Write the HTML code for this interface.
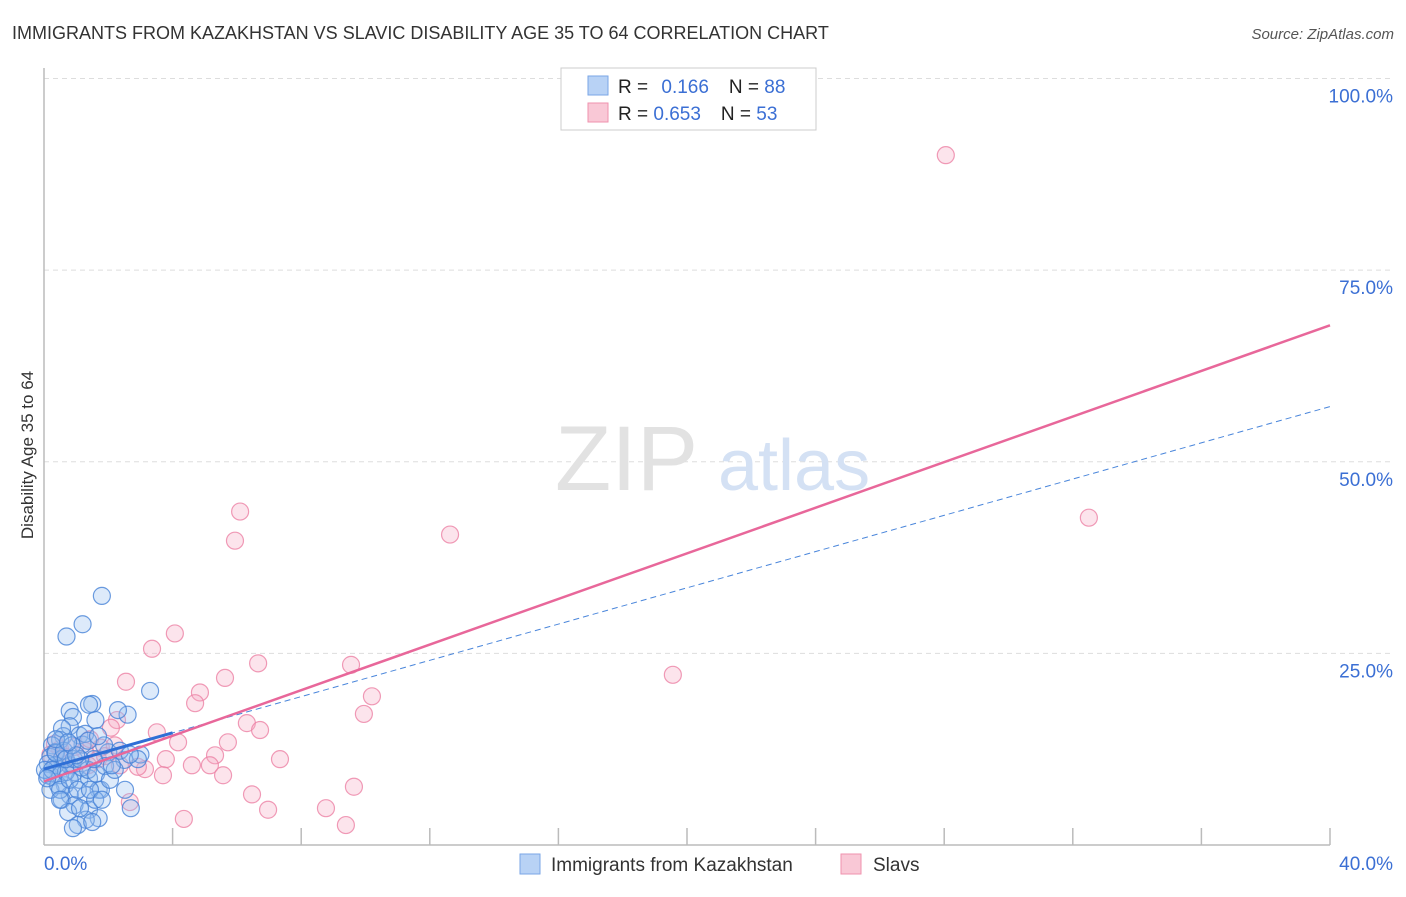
<!DOCTYPE html>
<html><head><meta charset="utf-8"><style>
body{margin:0;background:#fff;font-family:"Liberation Sans",sans-serif;}
svg text{font-family:"Liberation Sans",sans-serif;}
</style></head><body>
<svg id="chart" width="1406" height="892" xmlns="http://www.w3.org/2000/svg">
<text x="12" y="39" font-size="18" fill="#333">IMMIGRANTS FROM KAZAKHSTAN VS SLAVIC DISABILITY AGE 35 TO 64 CORRELATION CHART</text>
<text x="1394" y="39" font-size="15" fill="#555" font-style="italic" text-anchor="end">Source: ZipAtlas.com</text>
<text x="33" y="455" font-size="17" fill="#333" text-anchor="middle" transform="rotate(-90 33 455)">Disability Age 35 to 64</text>
<g id="grid"></g>
<g id="axes">
<line x1="44" y1="68" x2="44" y2="845" stroke="#bbb" stroke-width="1.5"/>
<line x1="44" y1="845" x2="1330" y2="845" stroke="#bbb" stroke-width="1.5"/>
</g>
<text x="555" y="490" font-size="92" fill="#e2e2e2" font-family="Liberation Serif,serif">ZIP</text>
<text x="718" y="490" font-size="72" fill="#d4e1f4">atlas</text>
<g id="ticks"></g>
<g id="pts"></g>
<g id="lines"></g>
<g>
<rect x="561" y="68" width="255" height="62" fill="#fff" stroke="#ccc"/>
<rect x="588" y="76" width="20" height="19" fill="#b8d2f5" stroke="#7aa6e6"/>
<rect x="588" y="103" width="20" height="19" fill="#f9c8d6" stroke="#ef92ae"/>
<text x="618" y="93" font-size="19" fill="#222">R = <tspan fill="#3b6fd4" dx="8">0.166</tspan><tspan dx="20" fill="#222">N = </tspan><tspan fill="#3b6fd4">88</tspan></text>
<text x="618" y="120" font-size="19" fill="#222">R = <tspan fill="#3b6fd4">0.653</tspan><tspan dx="20" fill="#222">N = </tspan><tspan fill="#3b6fd4">53</tspan></text>
</g>
<g>
<rect x="520" y="854" width="20" height="20" fill="#b8d2f5" stroke="#7aa6e6"/>
<text x="551" y="871" font-size="19" fill="#333">Immigrants from Kazakhstan</text>
<rect x="841" y="854" width="20" height="20" fill="#f9c8d6" stroke="#ef92ae"/>
<text x="873" y="871" font-size="19" fill="#333">Slavs</text>
</g>
</svg>
<script>
const blueX=[1.8,1.2,0.7,3.3,1.5,1.4,2.6,0.8,0.9,1.6,2.3,0.8,0.6,1.1,2.0,1.2,3.0,2.5,0.5,0.25,0.2,0.35,0.55,0.8,0.95,0.4,0.12,0.25,0.65,1.1,1.4,1.7,1.3,0.8,0.55,0.95,0.75,1.4,1.7,1.3,1.05,0.9,1.5,2.7,1.77,0.35,0.5,0.12,0.37,0.62,0.03,0.2,0.44,0.68,0.93,1.18,1.37,1.62,1.9,2.05,2.2,0.5,0.8,1.05,0.68,1.55,1.87,2.36,2.92,0.25,0.1,1.59,1.12,0.87,0.56,1.28,2.67,2.11,0.37,1.37,1.68,1.0,0.75,0.5,1.43,2.52,1.8,1.12];
const blueY=[32.5,28.8,27.2,20.1,18.4,18.3,17.0,17.5,16.7,16.3,17.6,15.5,14.2,14.3,12.1,13.1,11.8,11.1,13.7,13.0,11.5,12.1,11.2,10.4,9.5,10.0,9.1,8.9,7.8,8.5,8.7,7.2,6.5,6.5,5.9,5.2,4.3,4.6,3.5,3.3,2.6,2.2,3.0,4.8,7.2,10.4,9.1,10.6,12.0,12.3,9.8,7.2,7.8,9.5,11.2,10.1,9.8,9.3,10.3,8.5,9.8,7.2,8.5,7.2,11.2,11.2,13.0,12.3,11.2,9.8,8.7,5.9,11.2,13.0,15.2,14.5,11.8,10.4,13.8,13.6,14.2,11.7,13.4,5.9,7.2,7.2,5.9,4.8];
const pinkX=[28.05,32.5,12.63,6.1,5.94,4.07,3.36,6.66,9.55,19.56,2.55,4.85,5.63,10.2,4.7,9.95,2.27,6.31,6.72,3.51,2.08,5.72,4.17,5.32,7.34,3.79,4.6,5.16,3.14,5.57,3.7,2.92,1.77,1.68,1.27,0.96,0.5,0.34,0.65,1.37,2.36,6.47,9.64,2.67,6.97,8.77,4.35,9.39,1.9,1.43,0.8,0.2,2.2];
const pinkY=[90.0,42.7,40.5,43.5,39.7,27.6,25.6,23.7,23.5,22.2,21.3,19.9,21.8,19.4,18.5,17.1,16.3,15.9,15.0,14.7,15.3,13.4,13.4,11.7,11.2,11.2,10.4,10.4,9.9,9.1,9.1,10.2,12.7,11.2,12.3,12.8,12.5,13.2,11.5,10.4,10.4,6.6,7.6,5.6,4.6,4.8,3.4,2.6,11.6,13.8,10.4,11.8,13.0];
const xTicks=["0.0%","40.0%"];
const yTicks=[25,50,75,100];
const yTickLabels=["25.0%","50.0%","75.0%","100.0%"];
const blueFit=[9.9,57.2];
const pinkFit=[8.3,67.8];
const NS='http://www.w3.org/2000/svg';
const sx=v=>44+v*(1286/40);
const sy=v=>845-v*7.665;
function mk(tag,attrs,parent){const e=document.createElementNS(NS,tag);for(const k in attrs)e.setAttribute(k,attrs[k]);document.getElementById(parent).appendChild(e);return e;}
yTicks.forEach((t,i)=>{
 const g=mk('line',{x1:44,x2:1394,y1:sy(t),y2:sy(t),stroke:'#ddd','stroke-dasharray':'5,4'},'grid');
 
 
 const l=mk('text',{x:1393,y:sy(t)+24,'font-size':19,fill:'#3b6fd4','text-anchor':'end'},'ticks');
 l.textContent=yTickLabels[i];
 
 
});
for(let i=1;i<=10;i++){
 const t=mk('line',{x1:sx(i*4),x2:sx(i*4),y1:828,y2:845,stroke:'#bbb','stroke-width':1.5},'ticks');
 
 
}
[[0,'start',44],[40,'end',1393]].forEach((a,i)=>{
 const l=mk('text',{x:a[2],y:870,'font-size':19,fill:'#3b6fd4','text-anchor':a[1]},'ticks');
 l.textContent=xTicks[i];
 
 
});
pinkX.forEach((x,i)=>{
 const c=mk('circle',{cx:sx(x),cy:sy(pinkY[i]),r:8.5,fill:'rgba(246,170,195,0.32)',stroke:'rgba(236,130,165,0.8)','stroke-width':1.2},'pts');
 
 
});
blueX.forEach((x,i)=>{
 const c=mk('circle',{cx:sx(x),cy:sy(blueY[i]),r:8.5,fill:'rgba(150,190,240,0.32)',stroke:'rgba(70,130,215,0.8)','stroke-width':1.2},'pts');
 
 
});
const bl=mk('line',{x1:sx(0),y1:sy(blueFit[0]),x2:sx(40),y2:sy(blueFit[1]),stroke:'#4a86db','stroke-width':1,'stroke-dasharray':'6,4'},'lines');


const bx=4, byv=blueFit[0]+(blueFit[1]-blueFit[0])*bx/40;
const bs=mk('line',{x1:sx(0),y1:sy(blueFit[0]),x2:sx(bx),y2:sy(byv),stroke:'#2f6fd6','stroke-width':3},'lines');


const pl=mk('line',{x1:sx(0),y1:sy(pinkFit[0]),x2:sx(40),y2:sy(pinkFit[1]),stroke:'#e8679a','stroke-width':2.5},'lines');


</script>
</body></html>
